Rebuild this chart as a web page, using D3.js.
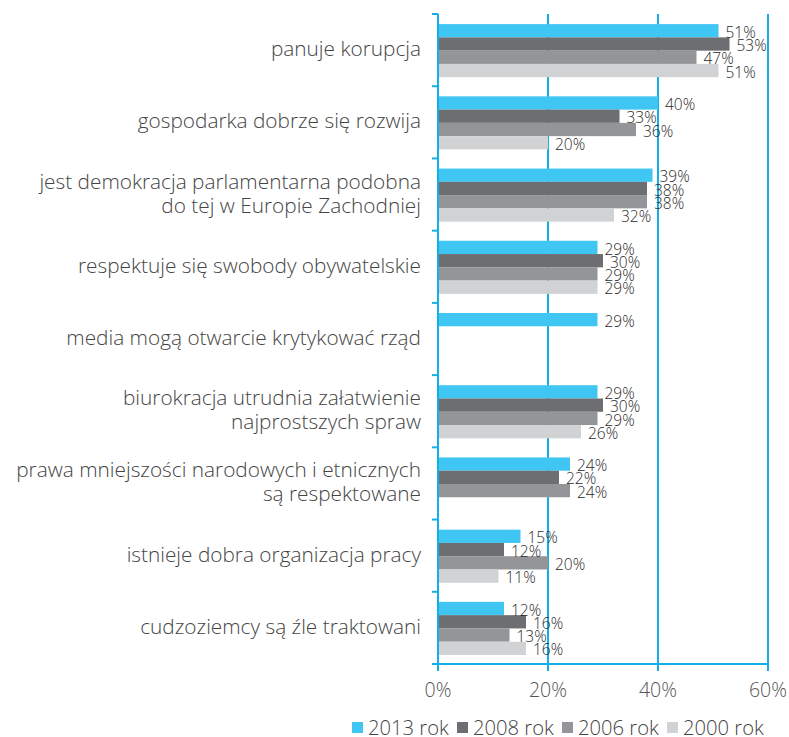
<!DOCTYPE html>
<html>
<head>
<meta charset="utf-8">
<script src="https://cdn.jsdelivr.net/npm/d3@7"></script>
<style>
  body { margin: 0; background: #fff; }
  text { font-family: "Open Sans", sans-serif; font-weight: 300; }
</style>
</head>
<body>
<svg id="chart" width="789" height="737"></svg>
<script>
// data
var CATEGORIES = [
    ["panuje korupcja"],
    ["gospodarka dobrze się rozwija"],
    ["jest demokracja parlamentarna podobna", "do tej w Europie Zachodniej"],
    ["respektuje się swobody obywatelskie"],
    ["media mogą otwarcie krytykować rząd"],
    ["biurokracja utrudnia załatwienie", "najprostszych spraw"],
    ["prawa mniejszości narodowych i etnicznych", "są respektowane"],
    ["istnieje dobra organizacja pracy"],
    ["cudzoziemcy są źle traktowani"]
];
var SERIES = ["2013 rok", "2008 rok", "2006 rok", "2000 rok"];
var V2013 = [51, 40, 39, 29, 29, 29, 24, 15, 12];
var V2008 = [53, 33, 38, 30, null, 30, 22, 12, 16];
var V2006 = [47, 36, 38, 29, null, 29, 24, 20, 13];
var V2000 = [51, 20, 32, 29, null, 26, null, 11, 16];
var X_TICKS = [0, 20, 40, 60];

var COLORS = ["#40c6f2", "#6d6e71", "#939598", "#d1d2d4"];
var AXIS_COLOR = "#14afe8";

var LEFT = 438, RIGHT = 768, TOP = 14, BOTTOM = 664;

var svg = d3.select("#chart");
var values = [V2013, V2008, V2006, V2000];

var xScale = d3.scaleLinear().domain([0, 60]).range([LEFT, RIGHT]);
var yScale = d3.scaleBand()
    .domain(d3.range(CATEGORIES.length))
    .range([TOP, BOTTOM])
    .paddingInner(0).paddingOuter(0);
var bw = yScale.bandwidth();
var inner = d3.scaleBand()
    .domain(d3.range(SERIES.length))
    .range([bw * 0.14, bw * 0.875])
    .padding(0);

// grid lines
svg.append("g").selectAll("line")
    .data(X_TICKS.slice(1))
    .join("line")
    .attr("x1", d => xScale(d)).attr("x2", d => xScale(d))
    .attr("y1", TOP).attr("y2", BOTTOM + 7)
    .attr("stroke", AXIS_COLOR).attr("stroke-width", 2);

// bars
var groups = svg.append("g").selectAll("g")
    .data(CATEGORIES)
    .join("g")
    .attr("transform", (d, i) => `translate(0, ${yScale(i)})`);

groups.each(function(cat, i) {
    var g = d3.select(this);
    var rows = values.map((arr, s) => ({ s: s, v: arr[i] })).filter(d => d.v != null);
    g.selectAll("rect")
        .data(rows)
        .join("rect")
        .attr("x", xScale(0))
        .attr("y", d => inner(d.s))
        .attr("width", d => xScale(d.v) - xScale(0))
        .attr("height", inner.bandwidth())
        .attr("fill", d => COLORS[d.s]);
    g.selectAll("text.val")
        .data(rows)
        .join("text")
        .attr("class", "val")
        .attr("x", d => xScale(d.v) + 7)
        .attr("y", d => inner(d.s) + inner.bandwidth() + 0.5)
        .attr("font-size", 15.5)
        .attr("font-weight", 400)
        .attr("fill", "#2a2a2a")
        .text(d => d.v + "%");
    // category label
    var lbl = g.append("text")
        .attr("text-anchor", "end")
        .attr("font-size", 20.8)
        .attr("fill", "#444");
    var n = cat.length;
    cat.forEach((line, k) => {
        lbl.append("tspan")
            .attr("x", 421)
            .attr("y", bw / 2 + 6 + (k - (n - 1) / 2) * 24)
            .text(line);
    });
});

// y axis
svg.append("line")
    .attr("x1", LEFT).attr("x2", LEFT)
    .attr("y1", TOP).attr("y2", BOTTOM + 7)
    .attr("stroke", AXIS_COLOR).attr("stroke-width", 2);
svg.append("g").selectAll("line")
    .data(d3.range(CATEGORIES.length + 1))
    .join("line")
    .attr("x1", LEFT - 6).attr("x2", LEFT)
    .attr("y1", d => TOP + d * bw).attr("y2", d => TOP + d * bw)
    .attr("stroke", AXIS_COLOR).attr("stroke-width", 2);

// x axis
svg.append("line")
    .attr("x1", LEFT).attr("x2", RIGHT)
    .attr("y1", BOTTOM).attr("y2", BOTTOM)
    .attr("stroke", AXIS_COLOR).attr("stroke-width", 2);
svg.append("g").selectAll("text")
    .data(X_TICKS)
    .join("text")
    .attr("x", d => xScale(d))
    .attr("y", 697)
    .attr("text-anchor", "middle")
    .attr("font-size", 19.5)
    .attr("fill", "#555")
    .text(d => d + "%");

// legend
var legend = svg.append("g").selectAll("g")
    .data(SERIES)
    .join("g")
    .attr("transform", (d, i) => `translate(${352 + i * 105}, 722)`);
legend.append("rect")
    .attr("width", 11).attr("height", 11)
    .attr("fill", (d, i) => COLORS[i]);
legend.append("text")
    .attr("x", 16).attr("y", 12.5)
    .attr("font-size", 20.2)
    .attr("fill", "#444")
    .text(d => d);
</script>
</body>
</html>
